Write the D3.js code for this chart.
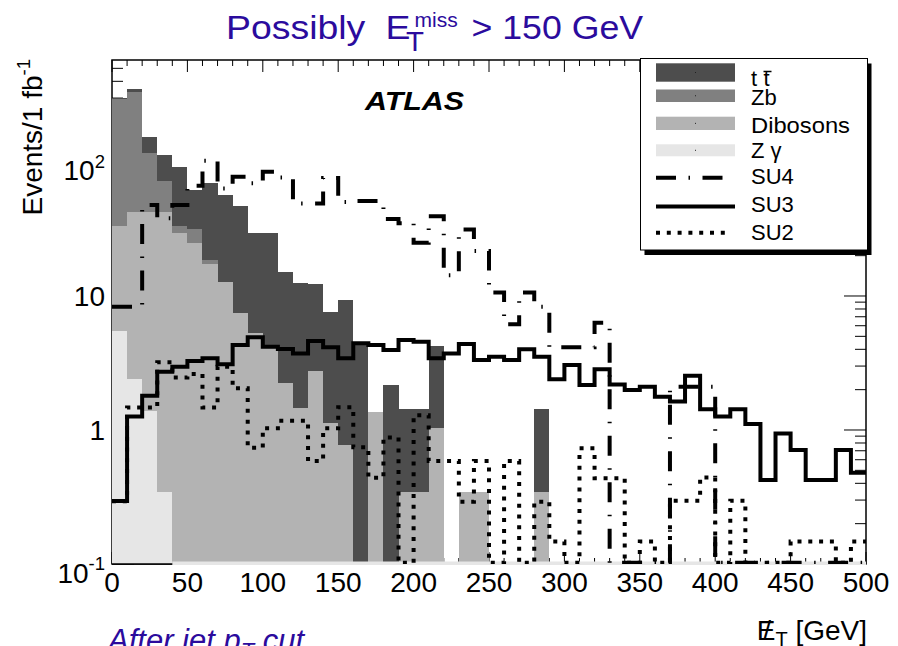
<!DOCTYPE html>
<html>
<head>
<meta charset="utf-8">
<script src="https://cdn.jsdelivr.net/npm/d3@7"></script>
<style>
  html, body { margin: 0; padding: 0; background: #fff; }
  svg { display: block; font-family: "Liberation Sans", Arial, Helvetica, sans-serif; }
</style>
</head>
<body>
<svg id="chart" width="898" height="646"></svg>
<script>
// Missing transverse energy, 10 GeV bins, events per 1 fb^-1
const binLow = [0, 10, 20, 30, 40, 50, 60, 70, 80, 90,
  100, 110, 120, 130, 140, 150, 160, 170, 180, 190,
  200, 210, 220, 230, 240, 250, 260, 270, 280, 290,
  300, 310, 320, 330, 340, 350, 360, 370, 380, 390,
  400, 410, 420, 430, 440, 450, 460, 470, 480, 490];
const binWidth = 10;

// Standard Model backgrounds (stacked)
const ttbar = [8, 18, 37.2, 40.3, 58.8, 30.3, 51.5, 43.9, 39.5, 24.1,
  25.3, 13.0, 11.0, 9.6, 6.5, 8.5, 4.3, 0, 2.17, 1.08,
  1.08, 3.17, 0, 0, 0, 0, 0, 0, 1.08, 0,
  0, 0, 0, 0, 0, 0, 0, 0, 0, 0,
  0, 0, 0, 0, 0, 0, 0, 0, 0, 0];
const zb = [260.5, 288.4, 74.7, 29.9, 3.9, 6.8, 1.3, 0, 0, 0,
  0, 0, 0, 0, 0, 0, 0, 0, 0, 0,
  0, 0, 0, 0, 0, 0, 0, 0, 0, 0,
  0, 0, 0, 0, 0, 0, 0, 0, 0, 0,
  0, 0, 0, 0, 0, 0, 0, 0, 0, 0];
const dibosons = [28.0, 40.2, 41.2, 42.3, 29.4, 24.7, 17.3, 12.8, 7.43, 5.27,
  4.07, 2.23, 1.45, 2.76, 1.13, 0.77, 0, 1.37, 0, 0.347,
  0.347, 1.03, 0, 0.347, 0.347, 0, 0, 0, 0.347, 0,
  0, 0, 0, 0, 0, 0, 0, 0, 0, 0,
  0, 0, 0, 0, 0, 0, 0, 0, 0, 0];
const zgamma = [5.48, 2.40, 1.39, 0.347, 0, 0, 0, 0, 0, 0,
  0, 0, 0, 0, 0, 0, 0, 0, 0, 0,
  0, 0, 0, 0, 0, 0, 0, 0, 0, 0,
  0, 0, 0, 0, 0, 0, 0, 0, 0, 0,
  0, 0, 0, 0, 0, 0, 0, 0, 0, 0];

// SUSY benchmark points (outlines)
const su4 = [8.3, 8.3, 47.8, 38.0, 47.8, 66.6, 102, 63.5, 77.6, 69.4,
  84.7, 76.5, 49.0, 49.0, 76.0, 50.3, 51.2, 51.2, 37.5, 34.9,
  25.0, 39.4, 14.3, 31.4, 21.7, 10.6, 6.15, 10.6, 8.3, 4.14,
  4.14, 4.14, 6.32, 0, 0, 0, 0, 2.1, 2.1, 2.1,
  0, 0, 0, 0, 0, 0, 0, 0, 0, 0];
const su3 = [0.295, 1.26, 1.80, 2.72, 2.97, 3.27, 3.43, 3.09, 4.31, 4.92,
  4.18, 4.02, 3.73, 4.61, 4.14, 3.43, 4.44, 4.31, 3.96, 4.69,
  4.56, 3.43, 3.73, 4.38, 3.33, 3.52, 3.33, 4.0, 3.52, 2.39,
  3.06, 2.17, 2.84, 2.19, 1.99, 2.10, 1.77, 1.63, 2.54, 1.43,
  1.26, 1.43, 1.11, 0.424, 0.94, 0.71, 0.424, 0.424, 0.71, 0.48];
const su2 = [0.294, 1.47, 1.47, 3.20, 2.46, 2.62, 1.47, 2.97, 2.05, 0.738,
  1.03, 1.17, 1.17, 0.587, 1.03, 1.48, 0.742, 0.441, 0.88, 0,
  1.29, 0.587, 0.587, 0.292, 0.587, 0, 0.587, 0, 0.292, 0.147,
  0, 0.73, 0.436, 0.436, 0, 0.147, 0, 0.297, 0.297, 0.443,
  0, 0.297, 0, 0, 0, 0.147, 0.147, 0.147, 0, 0.147];

// Axis ticks and labels
const xMajorTicks = [0, 50, 100, 150, 200, 250, 300, 350, 400, 450, 500];
const yMajorTicks = [0.1, 1, 10, 100];
const yLabelBase = ["10", "1", "10", "10"];
const yLabelExp = ["-1", "", "", "2"];

const stackKeys = ["zgamma", "dibosons", "zb", "ttbar"];
const stackColors = { zgamma: "#e6e6e6", dibosons: "#b3b3b3", zb: "#808080", ttbar: "#4d4d4d" };

const svg = d3.select("#chart");
const x = d3.scaleLinear().domain([0, 500]).range([112, 866]);
const y = d3.scaleLog().domain([0.1, 577]).range([564, 60]);
const yMin = y.domain()[0];
const X0 = x(0), X1 = x(500), Y0 = y(y.domain()[1]), Y1 = y(yMin);

const blue = "#2b0b9d";

function addText(px, py, str, o = {}) {
  let tr = `translate(${px},${py})`;
  if (o.rotate) tr += ` rotate(${o.rotate})`;
  if (o.sx) tr += ` scale(${o.sx},1)`;
  const t = svg.append("g").attr("transform", tr).append("text")
    .attr("text-anchor", o.anchor || "start")
    .attr("font-size", o.size || 28)
    .attr("fill", o.color || "#000");
  if (o.weight) t.attr("font-weight", o.weight);
  if (o.style) t.attr("font-style", o.style);
  if (str != null) t.text(str);
  return t;
}

// ---- frame and ticks ----
svg.append("rect").attr("x", X0).attr("y", Y0).attr("width", X1 - X0).attr("height", Y1 - Y0)
  .attr("fill", "none").attr("stroke", "#000").attr("stroke-width", 1.5);

const ticks = svg.append("g").attr("stroke", "#000").attr("stroke-width", 1);
for (let v = 0; v <= 500; v += binWidth) {
  const len = xMajorTicks.includes(v) ? 12 : 6;
  ticks.append("line").attr("x1", x(v)).attr("x2", x(v)).attr("y1", Y1).attr("y2", Y1 - len);
  ticks.append("line").attr("x1", x(v)).attr("x2", x(v)).attr("y1", Y0).attr("y2", Y0 + len);
}
yMajorTicks.forEach(dec => {
  for (let m = 1; m <= 9; m++) {
    const v = m * dec;
    if (v > y.domain()[1]) break;
    const len = m === 1 ? 22 : 11;
    ticks.append("line").attr("x1", X0).attr("x2", X0 + len).attr("y1", y(v)).attr("y2", y(v));
    ticks.append("line").attr("x1", X1).attr("x2", X1 - len).attr("y1", y(v)).attr("y2", y(v));
  }
});

// ---- stacked backgrounds ----
const rows = binLow.map((b, i) => ({ bin: b, zgamma: zgamma[i], dibosons: dibosons[i], zb: zb[i], ttbar: ttbar[i] }));
const layers = d3.stack().keys(stackKeys)(rows);
const area = d3.area()
  .x(d => x(d.x))
  .y0(d => y(Math.max(d.lo, yMin)))
  .y1(d => y(Math.max(d.hi, yMin)));
layers.forEach(layer => {
  const pts = layer.flatMap((s, i) => [
    { x: binLow[i], lo: s[0], hi: s[1] },
    { x: binLow[i] + binWidth, lo: s[0], hi: s[1] }
  ]);
  svg.append("path").attr("d", area(pts)).attr("fill", stackColors[layer.key])
    .attr("shape-rendering", "crispEdges");
});

// bottom axis line, then the faint Z-gamma floor beyond the populated bins
svg.append("line").attr("x1", X0).attr("x2", X1).attr("y1", Y1).attr("y2", Y1)
  .attr("stroke", "#000").attr("stroke-width", 1.5);
svg.append("rect").attr("x", x(binLow[4])).attr("y", Y1 - 2.5).attr("width", X1 - x(binLow[4])).attr("height", 3.5)
  .attr("fill", stackColors.zgamma);

// ---- signal outlines ----
svg.append("clipPath").attr("id", "plotArea").append("rect")
  .attr("x", X0).attr("y", Y0).attr("width", X1 - X0).attr("height", Y1 - Y0);
const lineFloor = y.invert(Y1 - 1.2);
const stepLine = d3.line().x(d => x(d[0])).y(d => y(Math.max(d[1], lineFloor)));
const steps = vals => vals.flatMap((v, i) => [[binLow[i], v], [binLow[i] + binWidth, v]]);

const styles = {
  su4: { dash: "20 12.5 1.5 12.5" },
  su3: { dash: null },
  su2: { dash: "4 6.8" }
};
const plotLines = svg.append("g").attr("clip-path", "url(#plotArea)");
[["su4", su4], ["su3", su3], ["su2", su2]].forEach(([k, vals]) => {
  const p = plotLines.append("path").attr("d", stepLine(steps(vals)))
    .attr("fill", "none").attr("stroke", "#000").attr("stroke-width", 4)
    .attr("stroke-linejoin", "miter").attr("stroke-linecap", "butt");
  if (styles[k].dash) p.attr("stroke-dasharray", styles[k].dash);
});

// ---- axis labels ----
xMajorTicks.forEach(v => addText(x(v), 592, String(v), { anchor: "middle", size: 28 }));
yMajorTicks.forEach((v, i) => {
  const hasExp = yLabelExp[i] !== "";
  const t = addText(105, y(v) + (hasExp ? 18.5 : 10), null, { anchor: "end", size: 28 });
  t.append("tspan").text(yLabelBase[i]);
  if (hasExp) t.append("tspan").attr("font-size", 18.5).attr("dy", -12.5).text(yLabelExp[i]);
});

// y title
const yt = addText(42, 59, null, { anchor: "end", size: 28, rotate: -90 });
yt.append("tspan").text("Events/1 fb");
yt.append("tspan").attr("font-size", 18.5).attr("dy", -12).text("-1");

// x title: missing E_T (slashed E)
const xTitleX = 867, xTitleY = 640;
const xt = addText(xTitleX, xTitleY, null, { anchor: "end", size: 28 });
xt.append("tspan").text("E");
xt.append("tspan").attr("font-size", 20).attr("dy", 6).text("T");
xt.append("tspan").attr("dy", -6).text(" [GeV]");
{
  const n = xt.node();
  const e0 = n.getStartPositionOfChar(0).x, e1 = n.getEndPositionOfChar(0).x;
  addText(xTitleX + (e0 + e1) / 2 + 1, xTitleY, "/", { anchor: "middle", size: 28 });
}

// title
addText(226, 39.3, "Possibly", { size: 34, sx: 1.1, color: blue });
addText(385.5, 39.3, "E", { size: 34, sx: 1.1, color: blue });
addText(406, 50.7, "T", { size: 28, sx: 1.05, color: blue });
addText(414.5, 26.7, "miss", { size: 19.5, sx: 1.08, color: blue });
addText(471.5, 39.3, "> 150 GeV", { size: 34, sx: 1.05, color: blue });

// experiment tag
addText(365, 110, "ATLAS", { size: 26, weight: "bold", style: "italic", sx: 1.17 });

// cut description below the axis
const cut = addText(108, 651, null, { size: 31, style: "italic", color: blue });
cut.append("tspan").text("After jet p");
cut.append("tspan").attr("font-size", 22).attr("dy", 7).text("T");
cut.append("tspan").attr("dy", -7).text(" cut");

// ---- legend ----
const lg = { x: 640.5, y: 58.5, w: 227, h: 191.5 };
svg.append("rect").attr("x", lg.x + 4).attr("y", lg.y + 5).attr("width", lg.w).attr("height", lg.h).attr("fill", "#000");
svg.append("rect").attr("x", lg.x).attr("y", lg.y).attr("width", lg.w).attr("height", lg.h)
  .attr("fill", "#fff").attr("stroke", "#000").attr("stroke-width", 1);

const sw0 = 656, sw1 = 735, txtX = 751;
const fillEntries = [
  { key: "ttbar", top: 63.3, bot: 81.7, base: 86 },
  { key: "zb", top: 89.5, bot: 102, base: 105 },
  { key: "dibosons", top: 116.7, bot: 130, base: 133.3 },
  { key: "zgamma", top: 144.3, bot: 156.3, base: 157.5 }
];
fillEntries.forEach(e => {
  svg.append("rect").attr("x", sw0).attr("y", e.top).attr("width", sw1 - sw0).attr("height", e.bot - e.top)
    .attr("fill", stackColors[e.key]);
  svg.append("rect").attr("x", (sw0 + sw1) / 2 - 0.5).attr("y", (e.top + e.bot) / 2 - 0.5)
    .attr("width", 1).attr("height", 1).attr("fill", "#222");
});
// t tbar label
addText(txtX, 86, "t", { size: 22 });
addText(763.5, 86, "t", { size: 22 });
svg.append("line").attr("x1", 763.5).attr("x2", 771.5).attr("y1", 71.5).attr("y2", 71.5)
  .attr("stroke", "#000").attr("stroke-width", 1.5);
addText(txtX, 105, "Zb", { size: 22 });
addText(txtX, 133.3, "Dibosons", { size: 22, sx: 1.08 });
addText(txtX, 157.5, "Z \u03b3", { size: 22 });

const lineEntries = [
  { key: "su4", label: "SU4", cy: 177.7, base: 183.5, x1: 725 },
  { key: "su3", label: "SU3", cy: 206.5, base: 212, x1: sw1 },
  { key: "su2", label: "SU2", cy: 232.7, base: 240, x1: 731 }
];
lineEntries.forEach(e => {
  const p = svg.append("line").attr("x1", sw0).attr("x2", e.x1).attr("y1", e.cy).attr("y2", e.cy)
    .attr("stroke", "#000").attr("stroke-width", 4);
  if (styles[e.key].dash) p.attr("stroke-dasharray", styles[e.key].dash);
  addText(txtX, e.base, e.label, { size: 22 });
});
</script>
</body>
</html>
